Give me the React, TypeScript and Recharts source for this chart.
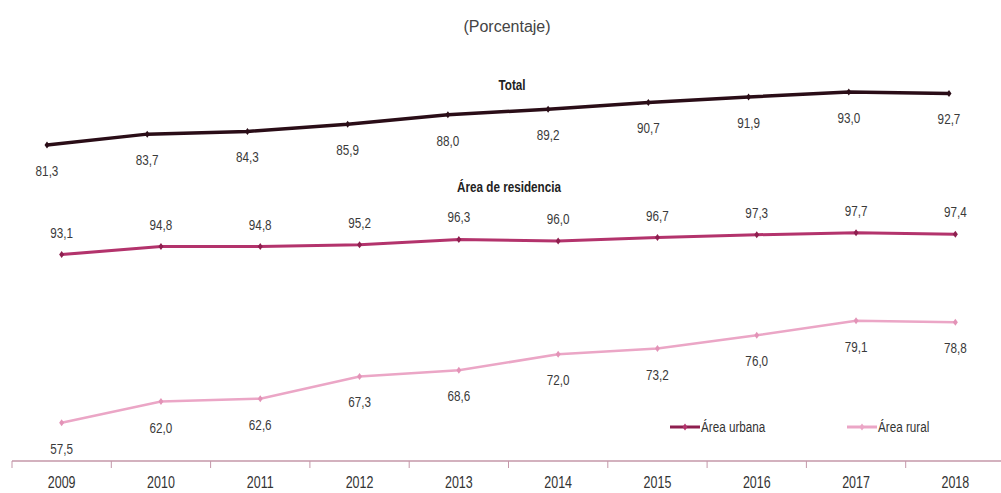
import { LineChart, Line, XAxis, YAxis, LabelList } from "recharts";

const years = ["2009", "2010", "2011", "2012", "2013", "2014", "2015", "2016", "2017", "2018"];
const total = [81.3, 83.7, 84.3, 85.9, 88.0, 89.2, 90.7, 91.9, 93.0, 92.7];
const urbana = [93.1, 94.8, 94.8, 95.2, 96.3, 96.0, 96.7, 97.3, 97.7, 97.4];
const rural = [57.5, 62.0, 62.6, 67.3, 68.6, 72.0, 73.2, 76.0, 79.1, 78.8];

const totalData = years.map((y, i) => ({ year: y, total: total[i] }));
const areaData = years.map((y, i) => ({ year: y, urbana: urbana[i], rural: rural[i] }));

const FONT = '"Liberation Sans", Arial, sans-serif';
const TOTAL_COLOR = "#2a0d17";
const URBAN_COLOR = "#b3336c";
const RURAL_COLOR = "#eba6c6";
const AXIS_COLOR = "#c497a9";
const BAND = 99.3;

const fmt = (v: number) => v.toFixed(1).replace(".", ",");

// condensed look: horizontally squeezed Liberation Sans
function Narrow({ x, y, size = 15, anchor = "middle", weight = "normal", fill = "#333", children }: any) {
  return (
    <text
      transform={`translate(${x},${y}) scale(0.78,1)`}
      textAnchor={anchor}
      dominantBaseline="central"
      fontSize={size}
      fontWeight={weight}
      fill={fill}
      fontFamily={FONT}
    >
      {children}
    </text>
  );
}

function Diamond({ cx, cy, fill }: any) {
  if (cx == null || cy == null) return null;
  return <path d={`M${cx},${cy - 3.5}L${cx + 2.5},${cy}L${cx},${cy + 3.5}L${cx - 2.5},${cy}Z`} fill={fill} />;
}

function ValueLabel({ x, y, value, dy }: any) {
  return <Narrow x={x} y={y + dy} fill="#3a3a3a">{fmt(value)}</Narrow>;
}

function YearTick({ x, y, payload }: any) {
  const left = x - BAND / 2;
  return (
    <g>
      <line x1={left} y1={y - 8} x2={left} y2={y - 1} stroke={AXIS_COLOR} strokeWidth={1} />
      <Narrow x={x} y={y + 13} size={16}>{payload.value}</Narrow>
    </g>
  );
}

const legendItems = [
  { label: "Área urbana", line: "#8e1f4f", mark: URBAN_COLOR, x: 670 },
  { label: "Área rural", line: RURAL_COLOR, mark: RURAL_COLOR, x: 847 },
];

export default function App() {
  return (
    <div style={{ position: "absolute", left: 0, top: 0, width: 1001, height: 493, overflow: "hidden", background: "#fff" }}>
      {/* Total: own scale, no visible axes */}
      <div style={{ position: "absolute", left: 0, top: 0 }}>
        <LineChart width={1001} height={200} data={totalData} margin={{ top: 83, right: 52, bottom: 26.5, left: 47 }}>
          <XAxis dataKey="year" hide />
          <YAxis hide domain={[75, 95]} />
          <Line
            dataKey="total"
            stroke={TOTAL_COLOR}
            strokeWidth={3.5}
            dot={<Diamond fill={TOTAL_COLOR} />}
            isAnimationActive={false}
          >
            <LabelList dataKey="total" content={(p: any) => <ValueLabel {...p} dy={26} />} />
          </Line>
        </LineChart>
      </div>

      {/* Área urbana / rural on a shared scale with the year axis */}
      <div style={{ position: "absolute", left: 0, top: 0 }}>
        <LineChart width={1010} height={493} data={areaData} margin={{ top: 222, right: 5, bottom: 0, left: 12 }}>
          <XAxis
            dataKey="year"
            height={32}
            padding={{ left: BAND / 2, right: BAND / 2 }}
            axisLine={{ stroke: AXIS_COLOR, strokeWidth: 1.5 }}
            tickLine={false}
            tick={<YearTick />}
            interval={0}
          />
          <YAxis hide domain={[49.4, 100]} />
          <Line
            dataKey="urbana"
            stroke={URBAN_COLOR}
            strokeWidth={3}
            dot={<Diamond fill="#8e1f4f" />}
            isAnimationActive={false}
          >
            <LabelList dataKey="urbana" content={(p: any) => <ValueLabel {...p} dy={-22} />} />
          </Line>
          <Line
            dataKey="rural"
            stroke={RURAL_COLOR}
            strokeWidth={2.5}
            dot={<Diamond fill="#e393b7" />}
            isAnimationActive={false}
          >
            <LabelList dataKey="rural" content={(p: any) => <ValueLabel {...p} dy={26} />} />
          </Line>
        </LineChart>
      </div>

      {/* titles and legend */}
      <svg width={1001} height={493} style={{ position: "absolute", left: 0, top: 0, pointerEvents: "none" }}>
        <text x={507} y={26} textAnchor="middle" dominantBaseline="central" fontSize={16} fill="#444" fontFamily={FONT}>
          (Porcentaje)
        </text>
        <Narrow x={512} y={85} size={15} weight="bold" fill="#222">Total</Narrow>
        <Narrow x={509} y={187} size={15} weight="bold" fill="#222">Área de residencia</Narrow>
        {legendItems.map((it) => (
          <g key={it.label}>
            <line x1={it.x} y1={427} x2={it.x + 30} y2={427} stroke={it.line} strokeWidth={3} />
            <Diamond cx={it.x + 15} cy={427} fill={it.mark} />
            <Narrow x={it.x + 31} y={427} anchor="start">{it.label}</Narrow>
          </g>
        ))}
      </svg>
    </div>
  );
}
